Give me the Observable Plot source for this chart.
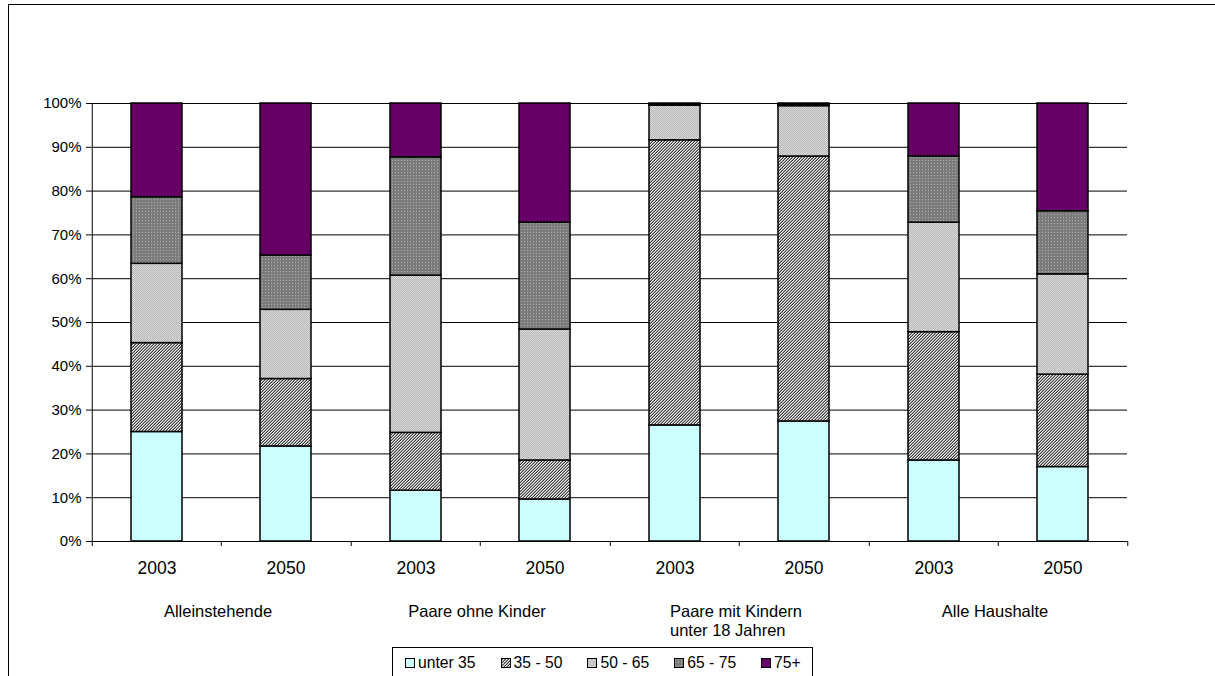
<!DOCTYPE html>
<html>
<head>
<meta charset="utf-8">
<script src="https://cdn.jsdelivr.net/npm/d3@7"></script>
<script src="https://cdn.jsdelivr.net/npm/@observablehq/plot@0.6"></script>
<style>
  html, body { margin: 0; padding: 0; background: #fff; }
  body { width: 1215px; height: 676px; overflow: hidden; position: relative;
         font-family: "Liberation Sans", Arial, sans-serif; }
  #chart { position: absolute; left: 0; top: 0; }
  #frame { position: absolute; left: 8px; top: 4px; width: 1400px; height: 900px;
           border: 1px solid #000; box-sizing: border-box; pointer-events: none; }
  #legend { position: absolute; left: 392px; top: 647px; width: 421px; height: 60px;
            border: 1px solid #000; box-sizing: border-box; background: #fff;
            display: flex; flex-wrap: nowrap; align-items: flex-start; padding: 6px 0 0 12px; }
  .item { display: flex; flex-shrink: 0; white-space: nowrap; align-items: center; margin-right: 25px;
          font-size: 15.7px; color: #000; line-height: 18px; }
  .item svg { margin-right: 2px; flex-shrink: 0; }
</style>
</head>
<body>
<svg width="0" height="0" style="position:absolute">
  <defs>
    <pattern id="p3550" width="3" height="3" patternUnits="userSpaceOnUse">
      <rect width="3" height="3" fill="#ececec"/>
      <rect x="0" y="2" width="1" height="1" fill="#404040"/>
      <rect x="1" y="1" width="1" height="1" fill="#404040"/>
      <rect x="2" y="0" width="1" height="1" fill="#404040"/>
      <rect x="0" y="1" width="1" height="1" fill="#9a9a9a"/>
      <rect x="1" y="0" width="1" height="1" fill="#9a9a9a"/>
      <rect x="2" y="2" width="1" height="1" fill="#9a9a9a"/>
    </pattern>
    <pattern id="p5065" width="2" height="2" patternUnits="userSpaceOnUse">
      <rect width="2" height="2" fill="#d8d8d8"/>
      <rect x="0" y="0" width="1" height="1" fill="#b8b8b8"/>
      <rect x="1" y="1" width="1" height="1" fill="#b8b8b8"/>
    </pattern>
    <pattern id="p6575" width="3" height="3" patternUnits="userSpaceOnUse">
      <rect width="3" height="3" fill="#7c7c7c"/>
      <rect x="1" y="1" width="1" height="1" fill="#adadad"/>
    </pattern>
  </defs>
</svg>
<div id="chart"></div>
<div id="legend"></div>
<div id="frame"></div>
<script>
// ---- data ----
const groups = ["Alleinstehende", "Paare ohne Kinder", "Paare mit Kindern\nunter 18 Jahren", "Alle Haushalte"];
const years = ["2003", "2050"];
const series = ["unter 35", "35 - 50", "50 - 65", "65 - 75", "75+"];
// values per bar, order: group1 2003, group1 2050, group2 2003, ...
const unter35 = [25.0, 21.7, 11.6, 9.6, 26.5, 27.4, 18.5, 17.0];
const a35_50  = [20.3, 15.4, 13.2, 8.9, 65.1, 60.5, 29.3, 21.1];
const a50_65  = [18.1, 15.8, 35.9, 29.9, 7.9, 11.5, 25.0, 22.9];
const a65_75  = [15.2, 12.4, 27.0, 24.4, 0.2, 0.3, 15.1, 14.4];
const a75plus = [21.4, 34.7, 12.3, 27.2, 0.3, 0.3, 12.1, 24.6];
const yTicks = [0, 10, 20, 30, 40, 50, 60, 70, 80, 90, 100];
const fills = ["#CCFFFF", "url(#p3550)", "url(#p5065)", "url(#p6575)", "#660066"];

const seriesValues = [unter35, a35_50, a50_65, a65_75, a75plus];
const data = [];
series.forEach((s, si) => groups.forEach((g, gi) => years.forEach((yr, yi) => {
  data.push({series: s, group: g, year: yr, value: seriesValues[si][gi * 2 + yi]});
})));
const cells = groups.flatMap(g => years.map(yr => ({group: g, year: yr})));

const W = 1215, H = 645, mL = 91, mR = 88, mT = 103, mB = 104;
const halfStep = (W - mL - mR) / cells.length / 2;
const plotH = H - mT - mB;

const chart = Plot.plot({
  width: W, height: H,
  marginLeft: mL, marginRight: mR, marginTop: mT, marginBottom: mB,
  style: {background: "transparent", fontFamily: "'Liberation Sans', Arial, sans-serif", color: "#000"},
  fx: {domain: groups, padding: 0, axis: null, label: null},
  x: {domain: years, paddingInner: 0.606, paddingOuter: 0.303, label: null},
  y: {domain: [0, 100], label: null},
  color: {domain: series, range: fills},
  marks: [
    Plot.gridY(yTicks.slice(1), {stroke: "#000", strokeOpacity: 1, strokeWidth: 1}),
    Plot.barY(data, {fx: "group", x: "year", y: "value", fill: "series", stroke: "#000", strokeWidth: 1.5}),
    Plot.ruleY([0], {stroke: "#000"}),
    Plot.ruleX(cells, {fx: "group", x: "year", dx: -halfStep, insetTop: plotH, insetBottom: -5, stroke: "#000"}),
    Plot.ruleX(cells.slice(-1), {fx: "group", x: "year", dx: halfStep, insetTop: plotH, insetBottom: -5, stroke: "#000"}),
    Plot.ruleX(cells.slice(0, 1), {fx: "group", x: "year", dx: -halfStep, stroke: "#000"}),
    Plot.axisY(yTicks, {tickFormat: d => d + "%", tickSize: 5, tickPadding: 5, fontSize: 15, label: null}),
    Plot.axisX({tickSize: 0, tickPadding: 20, fontSize: 17.5, label: null}),
    Plot.text(groups, {fx: d => d, frameAnchor: "bottom", lineAnchor: "top", dy: 61, fontSize: 16.5, lineHeight: 1.2, dx: -3})
  ]
});
document.getElementById("chart").appendChild(chart);

// left-align wrapped group label lines (as in the original)
chart.querySelectorAll("text").forEach(t => {
  const ts = t.querySelectorAll("tspan");
  if (ts.length > 1) {
    const w = ts[0].getComputedTextLength();
    t.setAttribute("text-anchor", "start");
    ts.forEach(s => s.setAttribute("x", -w / 2));
  }
});

// legend
const leg = document.getElementById("legend");
series.forEach((s, i) => {
  const item = document.createElement("div");
  item.className = "item";
  item.innerHTML = `<svg width="11" height="11"><rect x="0.5" y="0.5" width="9" height="9" fill="${fills[i]}" stroke="#000"/></svg><span>${s}</span>`;
  leg.appendChild(item);
});
</script>
</body>
</html>
